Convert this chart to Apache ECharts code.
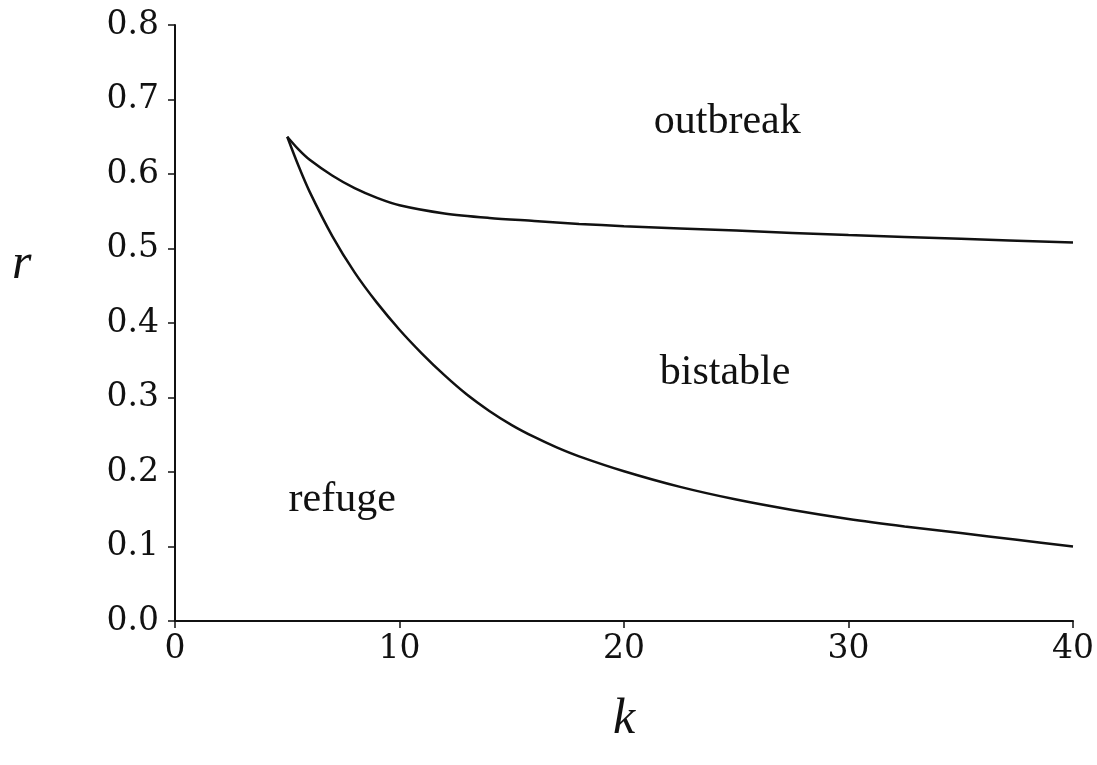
<!DOCTYPE html>
<html>
<head>
<meta charset="utf-8">
<script src="https://cdn.jsdelivr.net/npm/echarts@6/dist/echarts.min.js"></script>
<style>
  html, body { margin: 0; padding: 0; background: #fff; }
  #chart { width: 1097px; height: 765px; }
</style>
</head>
<body>
<div id="chart"></div>
<script>
// ===== 数据 =====
const kUpper = [5, 5.5, 6, 7, 8, 9, 10, 12, 14, 16, 18, 20, 25, 30, 35, 40];
const rUpper = [0.650, 0.633, 0.619, 0.598, 0.581, 0.568, 0.558, 0.547, 0.541, 0.537, 0.533, 0.530, 0.524, 0.518, 0.513, 0.508];

const kLower = [5, 5.5, 6, 7, 8, 9, 10, 11, 12, 13, 14, 15, 16, 17, 18, 20, 22.5, 25, 27.5, 30, 32.5, 35, 37.5, 40];
const rLower = [0.650, 0.611, 0.576, 0.517, 0.468, 0.427, 0.391, 0.359, 0.330, 0.304, 0.282, 0.263, 0.247, 0.233, 0.221, 0.201, 0.180, 0.163, 0.149, 0.137, 0.127, 0.118, 0.109, 0.100];

// 区域标注：名称 + 数据坐标
const regionNames = ['outbreak', 'bistable', 'refuge'];
const regionK = [24.6, 24.5, 7.45];
const regionR = [0.670, 0.333, 0.162];

const xTicks = [0, 10, 20, 30, 40];
const yTicks = [0.0, 0.1, 0.2, 0.3, 0.4, 0.5, 0.6, 0.7, 0.8];

const ink = '#111';
const pair = (xs, ys) => xs.map((x, i) => [x, ys[i]]);

const chart = echarts.init(document.getElementById('chart'));
chart.setOption({
    backgroundColor: '#fff',
    animation: false,
    grid: { left: 175, right: 24, top: 25, bottom: 144 },
    xAxis: {
        type: 'value',
        min: xTicks[0], max: xTicks[xTicks.length - 1], interval: 10,
        name: 'k', nameLocation: 'middle', nameGap: 74,
        nameTextStyle: { fontFamily: 'Liberation Serif', fontStyle: 'italic', fontSize: 50, color: ink },
        axisLine: { lineStyle: { color: ink, width: 2 } },
        axisTick: { length: 7, lineStyle: { color: ink, width: 1.5 } },
        axisLabel: { margin: 12, fontFamily: 'DejaVu Serif', fontSize: 33, color: ink },
        splitLine: { show: false }
    },
    yAxis: {
        type: 'value',
        min: yTicks[0], max: yTicks[yTicks.length - 1], interval: 0.1,
        axisLine: { lineStyle: { color: ink, width: 2 } },
        axisTick: { length: 7, lineStyle: { color: ink, width: 1.5 } },
        axisLabel: { margin: 16, fontFamily: 'DejaVu Serif', fontSize: 33, color: ink,
            formatter: v => v.toFixed(1) },
        splitLine: { show: false }
    },
    // 纵轴名 r 在原图中偏上，单独放置
    graphic: [{
        type: 'text', left: 12, top: 240,
        style: { text: 'r', font: 'italic 50px "Liberation Serif"', fill: ink }
    }],
    series: [
        {
            type: 'line', data: pair(kUpper, rUpper), smooth: 0.3,
            symbol: 'none', lineStyle: { color: ink, width: 2.5 }
        },
        {
            type: 'line', data: pair(kLower, rLower), smooth: 0.3,
            symbol: 'none', lineStyle: { color: ink, width: 2.5 }
        },
        {
            type: 'scatter', symbolSize: 0, silent: true,
            itemStyle: { opacity: 1, color: ink },
            data: regionNames.map((n, i) => ({ name: n, value: [regionK[i], regionR[i]] })),
            label: {
                show: true, position: 'inside', formatter: p => p.name,
                fontFamily: 'Liberation Serif', fontSize: 42, color: ink,
                opacity: 1, textBorderWidth: 0
            }
        }
    ]
});
</script>
</body>
</html>
